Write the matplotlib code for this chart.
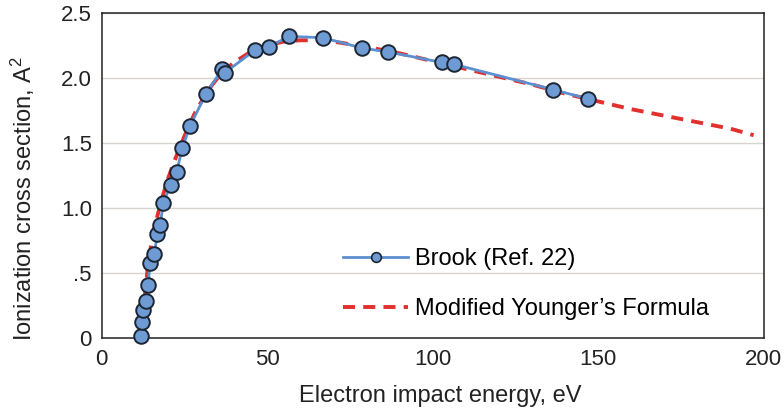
import matplotlib
matplotlib.use("Agg")
import matplotlib.pyplot as plt
from matplotlib.lines import Line2D

plt.rcParams['font.family'] = ['Liberation Sans', 'DejaVu Sans']
plt.rcParams['mathtext.fontset'] = 'custom'
plt.rcParams['mathtext.rm'] = 'Liberation Sans'
plt.rcParams['mathtext.it'] = 'Liberation Sans'

# Brook measurements (Ref. 22)
brook_energy = [11.8, 12.1, 12.6, 13.4, 14.1, 14.65, 15.95, 16.9, 17.7, 18.7,
                20.9, 22.7, 24.4, 26.7, 31.6, 36.5, 37.2, 46.4, 50.6, 56.6,
                66.8, 78.8, 86.6, 102.8, 106.5, 136.5, 146.9]
brook_sigma = [0.015, 0.125, 0.215, 0.285, 0.41, 0.58, 0.65, 0.80, 0.87, 1.04,
               1.18, 1.28, 1.46, 1.63, 1.88, 2.07, 2.04, 2.215, 2.24, 2.32,
               2.31, 2.23, 2.20, 2.12, 2.105, 1.91, 1.84]

# Modified Younger's formula curve
younger_energy = [12, 13, 14, 15, 16, 18, 20, 22, 25, 28, 32, 36, 40, 45, 50,
                  55, 60, 65, 70, 80, 90, 100, 110, 120, 130, 140, 150, 160,
                  170, 180, 190, 197]
younger_sigma = [0.0, 0.30, 0.55, 0.72, 0.85, 1.05, 1.22, 1.36, 1.55, 1.72,
                 1.90, 2.03, 2.12, 2.20, 2.25, 2.28, 2.29, 2.29, 2.28, 2.24,
                 2.19, 2.13, 2.07, 2.01, 1.95, 1.88, 1.82, 1.76, 1.71, 1.66,
                 1.61, 1.56]

xticks = [0, 50, 100, 150, 200]
yticks = [0, 0.5, 1.0, 1.5, 2.0, 2.5]
ytick_labels = ['0', '.5', '1.0', '1.5', '2.0', '2.5']

blue = '#5b8fd0'
face = '#6f9bd4'
edge = '#1c2633'
red = '#e2302e'
ink = '#222222'

fig = plt.figure(figsize=(7.84, 4.11), dpi=100)
ax = fig.add_axes([0.1295, 0.1776, 0.8444, 0.7908])

ax.plot(younger_energy, younger_sigma, color=red, lw=2.8,
        dashes=(3.1, 2.1), zorder=3)
ax.plot(brook_energy, brook_sigma, color=blue, lw=2, marker='o', ms=10.5,
        mfc=face, mec=edge, mew=1.4, zorder=4, clip_on=False)

ax.set_xlim(0, 200)
ax.set_ylim(0, 2.5)
ax.set_xticks(xticks)
ax.set_yticks(yticks)
ax.set_yticklabels(ytick_labels)
ax.tick_params(length=0, labelsize=16, pad=7, colors=ink)
ax.tick_params(axis='x', pad=8)
ax.grid(axis='y', color='#d8d4cf', lw=1)
ax.set_axisbelow(True)
for s in ax.spines.values():
    s.set_color(ink)
    s.set_linewidth(1.1)

ax.set_xlabel('Electron impact energy, eV', fontsize=17, color=ink)
ax.set_ylabel('Ionization cross section, A$^2$', fontsize=17, color=ink)
ax.xaxis.set_label_coords(0.511, -0.145)
ax.yaxis.set_label_coords(-0.098, 0.43)

handles = [
    Line2D([], [], color=blue, lw=2, marker='o', ms=7, mfc=face, mec=edge,
           mew=1.2),
    Line2D([], [], color=red, lw=2.8, dashes=(3.1, 2.1)),
]
ax.legend(handles, ['Brook (Ref. 22)', 'Modified Younger\u2019s Formula'],
          loc='center left', bbox_to_anchor=(0.365, 0.166), frameon=False,
          fontsize=17, handlelength=2.75, handletextpad=0.3, labelspacing=1.2,
          borderpad=0, borderaxespad=0)

fig.savefig('out.png', dpi=100, facecolor='white')
